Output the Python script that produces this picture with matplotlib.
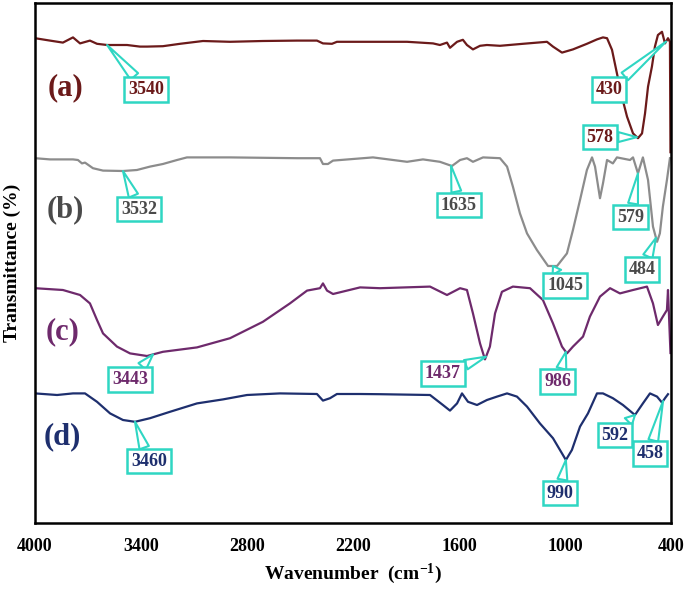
import numpy as np
import matplotlib
matplotlib.use("Agg")
import matplotlib.pyplot as plt

# ---------------- data ----------------
wn_a = [4000, 3915, 3842, 3785, 3745, 3689, 3649, 3592, 3536, 3479, 3406, 3366, 3276, 3179, 3049,
        2896, 2710, 2517, 2404, 2370, 2319, 2291, 1894, 1747, 1708, 1668, 1651, 1611, 1578, 1555,
        1521, 1481, 1442, 1368, 1238, 1102, 1068, 1017, 955, 876, 819, 785, 762, 734, 706, 678,
        649, 615, 587, 564, 547, 530, 508, 491, 474, 451, 434, 417, 406, 403]
t_a = [121.2, 120.6, 120.1, 121.4, 119.9, 120.6, 119.8, 119.5, 119.5, 119.5, 119.1, 119.1, 119.2,
       119.8, 120.5, 120.3, 120.5, 120.6, 120.6, 119.9, 119.8, 120.3, 120.3, 119.9, 119.5, 120.1,
       118.8, 120.3, 120.8, 119.5, 118.4, 119.3, 119.5, 119.3, 119.8, 120.3, 119.1, 117.6, 118.4,
       119.8, 120.9, 121.4, 121.2, 118.3, 112.4, 106.6, 101.6, 97.4, 96.2, 97.4, 102.4, 109.1,
       114.1, 119.1, 122.0, 122.8, 119.9, 121.2, 120.3, 92.7]

wn_b = [4000, 3915, 3785, 3757, 3734, 3717, 3672, 3615, 3502, 3423, 3349, 3276, 3196, 3140, 2896,
        2517, 2387, 2370, 2342, 2313, 2087, 1894, 1804, 1708, 1640, 1594, 1555, 1521, 1464, 1368,
        1328, 1295, 1255, 1215, 1159, 1096, 1045, 989, 955, 915, 876, 847, 830, 802, 785, 762,
        729, 706, 632, 615, 587, 559, 530, 502, 479, 463, 446, 423, 406]
t_b = [91.2, 90.9, 90.9, 90.75, 89.9, 90.1, 88.7, 88.1, 88.0, 88.25, 89.1, 89.75, 90.75, 91.4, 91.4,
       91.2, 91.2, 89.75, 89.75, 90.6, 91.4, 90.3, 90.9, 90.3, 89.25, 90.75, 91.2, 90.3, 91.4, 91.2,
       89.1, 84.1, 77.4, 72.4, 68.25, 64.25, 64.25, 67.4, 73.25, 80.75, 88.25, 91.4, 89.1, 81.2,
       84.9, 90.75, 89.9, 91.4, 90.75, 91.4, 87.4, 91.4, 85.75, 74.1, 70.3, 72.4, 79.1, 85.75, 91.2]

wn_c = [4000, 3842, 3745, 3689, 3649, 3615, 3536, 3462, 3366, 3276, 3083, 2896, 2710, 2557, 2460,
        2387, 2370, 2347, 2313, 2160, 2047, 1764, 1668, 1594, 1555, 1521, 1481, 1453, 1425, 1396,
        1357, 1295, 1198, 1125, 1068, 1017, 989, 955, 898, 859, 802, 745, 689, 615, 536, 502, 474,
        446, 423, 417, 403]
t_c = [58.7, 58.25, 57.0, 54.9, 50.75, 47.4, 44.1, 42.4, 41.75, 42.8, 43.9, 46.2, 50.3, 54.9, 58.1,
       58.7, 59.9, 58.1, 57.25, 58.9, 58.7, 59.1, 57.0, 58.7, 58.25, 52.4, 44.9, 40.9, 44.1, 52.4,
       57.8, 59.1, 58.7, 55.75, 49.9, 44.1, 42.4, 44.1, 46.6, 51.6, 56.6, 58.7, 57.4, 58.25, 59.1,
       54.9, 49.5, 51.6, 53.25, 58.25, 42.5]

wn_d = [4000, 3875, 3785, 3717, 3649, 3575, 3502, 3434, 3349, 3236, 3083, 2936, 2800, 2613, 2404,
        2370, 2330, 2291, 2160, 2047, 1764, 1691, 1651, 1611, 1583, 1549, 1498, 1442, 1385, 1328,
        1272, 1215, 1142, 1068, 1017, 995, 961, 915, 870, 819, 785, 729, 672, 604, 559, 519, 479,
        451, 434, 417]
t_d = [32.4, 32.0, 32.4, 32.4, 30.3, 27.4, 25.75, 25.3, 26.2, 27.8, 29.9, 30.9, 32.0, 32.4, 32.25,
       30.6, 31.2, 32.25, 32.25, 32.2, 32.0, 29.5, 28.1, 29.9, 32.4, 30.3, 29.5, 30.75, 31.6, 32.4,
       31.6, 29.1, 24.9, 21.2, 17.4, 15.75, 18.25, 24.1, 27.4, 32.4, 32.4, 31.2, 29.5, 27.0, 29.9,
       32.4, 31.6, 30.1, 31.2, 32.2]

series_names = ["(a)", "(b)", "(c)", "(d)"]

# peak labels: (series index, label text, peak wavenumber on curve)
peak_series = [0, 0, 0, 1, 1, 1, 1, 1, 2, 2, 2, 3, 3, 3, 3]
peak_labels = ["3540", "430", "578", "3532", "1635", "1045", "579", "484",
               "3443", "1437", "986", "3460", "990", "592", "458"]
peak_wn = [3592, 428, 593, 3502, 1645, 1068, 587, 485,
           3332, 1447, 995, 3434, 995, 604, 445]

x_ticks = [4000, 3400, 2800, 2200, 1600, 1000, 400]

# ---------------- style / layout ----------------
line_colors = ["#6b1a1a", "#8c8c8c", "#6e2a6c", "#1e2f6e"]
text_colors = ["#6b1a1a", "#4a4a4a", "#6e2a6c", "#1e2f6e"]
cyan = "#2fd6c3"
# box centres (wavenumber, transmittance units)
box_pos = [(3372, 108.3), (751, 108.3), (802, 96.5), (3411, 78.5), (1600, 79.5),
           (1000, 59.3), (627, 76.5), (564, 63.3), (3462, 35.8), (1691, 37.3),
           (1040, 35.3), (3355, 15.5), (1028, 7.5), (717, 22.0), (519, 17.3)]
name_pos = [(3830, 108.7), (3830, 78.3), (3845, 47.7), (3845, 21.5)]

plt.rcParams["font.family"] = ["Liberation Serif", "DejaVu Serif"]
plt.rcParams["font.weight"] = "bold"
plt.rcParams["mathtext.fontset"] = "custom"
plt.rcParams["mathtext.rm"] = "Liberation Serif:bold"
plt.rcParams["mathtext.bf"] = "Liberation Serif:bold"
plt.rcParams["mathtext.it"] = "Liberation Serif:bold"

fig = plt.figure(figsize=(6.85, 5.89), dpi=100)
ax = fig.add_axes([35 / 685, 66 / 589, 636 / 685, 520 / 589])

series = [(wn_a, t_a), (wn_b, t_b), (wn_c, t_c), (wn_d, t_d)]
for (w, t), col in zip(series, line_colors):
    ax.plot(w, t, color=col, lw=1.6, zorder=2, solid_joinstyle="round")

ax.set_xlim(4000, 400)
ax.set_ylim(0, 130)
ax.set_xticks(x_ticks)
ax.set_xticklabels([str(v) for v in x_ticks])
ax.set_yticks([])
ax.tick_params(axis="x", length=0, pad=11, labelsize=13)
for s in ax.spines.values():
    s.set_linewidth(1.8)
    s.set_color("black")

ax.set_xlabel("Wavenumber  (cm$^{-1}$)", fontsize=14, fontweight="bold")
ax.xaxis.set_label_coords(0.5, -0.075)
ax.set_ylabel("Transmittance (%)", fontsize=14, fontweight="bold", va="center")
ax.yaxis.set_label_coords(-0.035, 0.5)

for i, name in enumerate(series_names):
    ax.text(name_pos[i][0], name_pos[i][1], name, color=text_colors[i], fontsize=22,
            fontweight="bold", ha="center", va="center", zorder=3)

for si, lab, pw, bp in zip(peak_series, peak_labels, peak_wn, box_pos):
    w, t = series[si]
    # curve y at the peak (np.interp needs increasing x)
    py = float(np.interp(pw, w[::-1], t[::-1]))
    ax.annotate(lab, xy=(pw, py), xytext=bp, textcoords="data",
                ha="center", va="center", fontsize=13, fontweight="bold",
                color=text_colors[si], zorder=5,
                bbox=dict(boxstyle="square,pad=0.22", fc="white", ec=cyan, lw=1.8),
                arrowprops=dict(arrowstyle="wedge,tail_width=0.55", fc="white", ec=cyan,
                                lw=1.5, shrinkA=0, shrinkB=0))

fig.savefig("out.png", dpi=100)
